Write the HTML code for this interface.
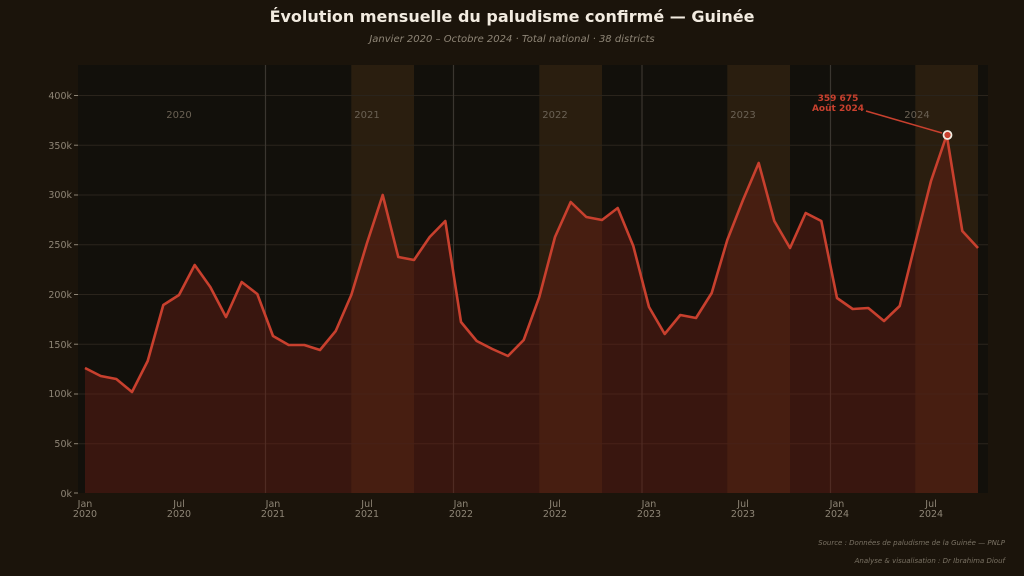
<!DOCTYPE html>
<html><head><meta charset="utf-8"><style>
html,body{margin:0;padding:0;background:#1b140b;width:1024px;height:576px;overflow:hidden}
svg{display:block;font-family:"DejaVu Sans","Liberation Sans",sans-serif}
</style></head><body>
<svg width="1024" height="576" viewBox="0 0 1024 576">
<rect width="1024" height="576" fill="#1b140b"/>
<text x="512" y="22" text-anchor="middle" fill="#f2ebe0" font-size="16" font-weight="bold">Évolution mensuelle du paludisme confirmé — Guinée</text>
<text x="512" y="42" text-anchor="middle" fill="#8e8576" font-size="10" font-style="italic">Janvier 2020 – Octobre 2024 · Total national · 38 districts</text>
<rect x="78" y="65" width="910" height="428" fill="#12100b"/>
<g fill="#3a2812" opacity="0.6">
<rect x="351.3" y="65" width="62.7" height="428"/>
<rect x="539.3" y="65" width="62.7" height="428"/>
<rect x="727.3" y="65" width="62.7" height="428"/>
<rect x="915.3" y="65" width="62.7" height="428"/>
</g>
<g stroke="#2a241c" stroke-width="1">
<line x1="78" x2="988" y1="95.5" y2="95.5"/><line x1="78" x2="988" y1="145.2" y2="145.2"/>
<line x1="78" x2="988" y1="195" y2="195"/><line x1="78" x2="988" y1="244.7" y2="244.7"/>
<line x1="78" x2="988" y1="294.5" y2="294.5"/><line x1="78" x2="988" y1="344.2" y2="344.2"/>
<line x1="78" x2="988" y1="394" y2="394"/><line x1="78" x2="988" y1="443.7" y2="443.7"/>
</g>
<g stroke="#3a3630" stroke-width="1.2">
<line x1="265.5" x2="265.5" y1="65" y2="493"/><line x1="453.5" x2="453.5" y1="65" y2="493"/>
<line x1="642" x2="642" y1="65" y2="493"/><line x1="830.5" x2="830.5" y1="65" y2="493"/>
</g>
<g fill="#6a6154" font-size="10" text-anchor="middle">
<text x="179" y="118">2020</text><text x="367" y="118">2021</text><text x="555" y="118">2022</text><text x="743" y="118">2023</text><text x="917" y="118">2024</text>
</g>
<polygon fill="#6a1f14" fill-opacity="0.45" points="85,493 85,368 100.7,376 116.3,379 132,392 147.7,361 163.3,305 179,295 194.7,265 210.3,287 226,317 241.7,282 257.3,294 273,336 288.7,345 304.3,345 320,350 335.7,331 351.3,295 367,243 382.7,195 398.3,257 414,260 429.7,237 445.3,221 461,322 476.7,341 492.3,349 508,356 523.7,340 539.3,297 555,237 570.7,202 586.3,217 602,220 617.7,208 633.3,246 649,307 664.7,334 680.3,315 696,318 711.7,293 727.3,240 743,200 758.7,163 774.3,221 790,248 805.7,213 821.3,221 837,298 852.7,309 868.3,308 884,321 899.7,306 915.3,243 931,181 946.7,135 962.3,231 978,248 978,493"/>
<polyline fill="none" stroke="#c8402e" stroke-width="2.6" stroke-linejoin="round" points="85,368 100.7,376 116.3,379 132,392 147.7,361 163.3,305 179,295 194.7,265 210.3,287 226,317 241.7,282 257.3,294 273,336 288.7,345 304.3,345 320,350 335.7,331 351.3,295 367,243 382.7,195 398.3,257 414,260 429.7,237 445.3,221 461,322 476.7,341 492.3,349 508,356 523.7,340 539.3,297 555,237 570.7,202 586.3,217 602,220 617.7,208 633.3,246 649,307 664.7,334 680.3,315 696,318 711.7,293 727.3,240 743,200 758.7,163 774.3,221 790,248 805.7,213 821.3,221 837,298 852.7,309 868.3,308 884,321 899.7,306 915.3,243 931,181 946.7,135 962.3,231 978,248"/>
<line x1="866" y1="111" x2="942" y2="133" stroke="#c8402e" stroke-width="1.5"/>
<circle cx="947.5" cy="135" r="4" fill="#c8402e" stroke="#f2ebe0" stroke-width="1.8"/>
<g fill="#c8402e" font-size="9" font-weight="bold" text-anchor="middle">
<text x="838" y="101">359 675</text><text x="838" y="111">Août 2024</text></g>
<g fill="#8e8576" font-size="9.5" text-anchor="end">
<text x="72" y="99">400k</text><text x="72" y="149">350k</text><text x="72" y="198">300k</text><text x="72" y="248">250k</text><text x="72" y="298">200k</text><text x="72" y="348">150k</text><text x="72" y="397">100k</text><text x="72" y="447">50k</text><text x="72" y="497">0k</text></g>
<g stroke="#8e8576"><line x1="74" x2="78" y1="95.5" y2="95.5"/><line x1="74" x2="78" y1="145.2" y2="145.2"/><line x1="74" x2="78" y1="195" y2="195"/><line x1="74" x2="78" y1="244.7" y2="244.7"/><line x1="74" x2="78" y1="294.5" y2="294.5"/><line x1="74" x2="78" y1="344.2" y2="344.2"/><line x1="74" x2="78" y1="394" y2="394"/><line x1="74" x2="78" y1="443.7" y2="443.7"/><line x1="74" x2="78" y1="493" y2="493"/></g>
<g fill="#8e8576" font-size="9.5" text-anchor="middle">
<text x="85" y="507">Jan</text><text x="85" y="517">2020</text>
<text x="179" y="507">Jul</text><text x="179" y="517">2020</text>
<text x="273" y="507">Jan</text><text x="273" y="517">2021</text>
<text x="367" y="507">Jul</text><text x="367" y="517">2021</text>
<text x="461" y="507">Jan</text><text x="461" y="517">2022</text>
<text x="555" y="507">Jul</text><text x="555" y="517">2022</text>
<text x="649" y="507">Jan</text><text x="649" y="517">2023</text>
<text x="743" y="507">Jul</text><text x="743" y="517">2023</text>
<text x="837" y="507">Jan</text><text x="837" y="517">2024</text>
<text x="931" y="507">Jul</text><text x="931" y="517">2024</text>
</g>
<g fill="#7a7264" font-size="7" font-style="italic" text-anchor="end">
<text x="1005" y="545">Source : Données de paludisme de la Guinée — PNLP</text>
<text x="1005" y="563">Analyse &amp; visualisation : Dr Ibrahima Diouf</text></g>
</svg>
</body></html>
